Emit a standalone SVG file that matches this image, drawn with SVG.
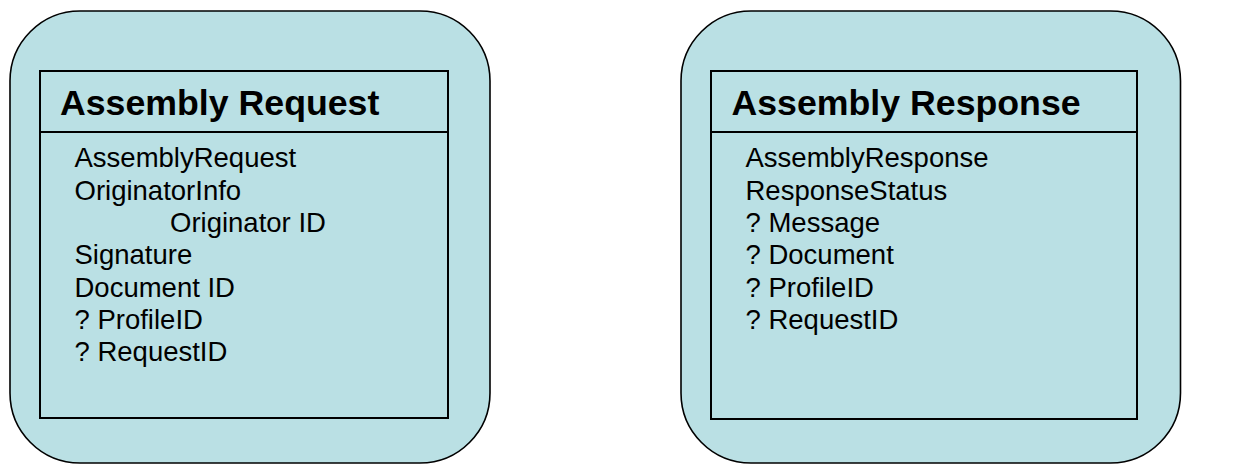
<svg xmlns="http://www.w3.org/2000/svg" width="1237" height="464" viewBox="0 0 1237 464">
<style>
.outer{fill:#BAE0E4;stroke:#000;stroke-width:1.6}
.inner{fill:none;stroke:#000;stroke-width:2}
.title{font-family:"Liberation Sans",Arial,sans-serif;font-weight:bold;font-size:35.7px;fill:#000}
.body{font-family:"Liberation Sans",Arial,sans-serif;font-size:27.5px;fill:#000}
</style>
<rect width="1237" height="464" fill="#fff"/>
<g id="assembly-request">
<rect class="outer" x="10" y="11" width="480" height="452" rx="70" ry="70"/>
<rect class="inner" x="40" y="71" width="408" height="347"/>
<line class="inner" x1="40" y1="132" x2="448" y2="132"/>
<text class="title" x="60" y="115">Assembly Request</text>
<text class="body" x="74.5" y="167.3">AssemblyRequest</text>
<text class="body" x="74.5" y="199.6">OriginatorInfo</text>
<text class="body" x="170" y="231.9">Originator ID</text>
<text class="body" x="74.5" y="264.2">Signature</text>
<text class="body" x="74.5" y="296.5">Document ID</text>
<text class="body" x="74.5" y="328.8">? ProfileID</text>
<text class="body" x="74.5" y="361.1">? RequestID</text>
</g>
<g id="assembly-response">
<rect class="outer" x="681" y="11" width="499.5" height="452" rx="70" ry="70"/>
<rect class="inner" x="711" y="71" width="426" height="348"/>
<line class="inner" x1="711" y1="132" x2="1137" y2="132"/>
<text class="title" x="731.5" y="115">Assembly Response</text>
<text class="body" x="745.5" y="167.3">AssemblyResponse</text>
<text class="body" x="745.5" y="199.6">ResponseStatus</text>
<text class="body" x="745.5" y="231.9">? Message</text>
<text class="body" x="745.5" y="264.2">? Document</text>
<text class="body" x="745.5" y="296.5">? ProfileID</text>
<text class="body" x="745.5" y="328.8">? RequestID</text>
</g>
<g id="connectors"></g>
</svg>
